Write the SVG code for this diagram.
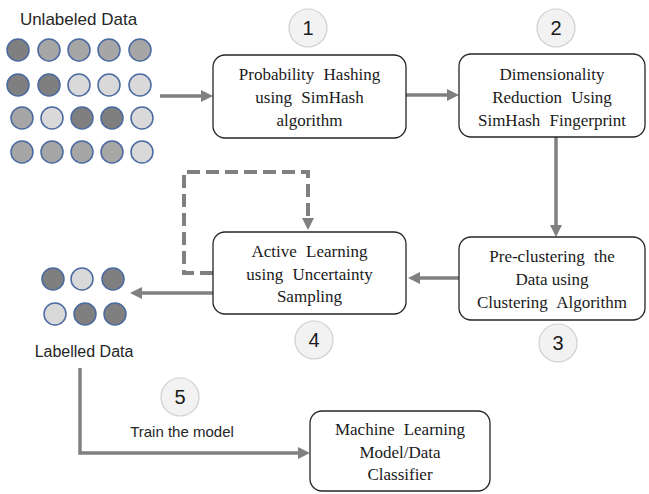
<svg xmlns="http://www.w3.org/2000/svg" width="649" height="494" viewBox="0 0 649 494">
<defs>
<style>
.box{fill:#fff;stroke:#262626;stroke-width:1.3}
.bt{font-family:"Liberation Serif","Times New Roman",serif;font-size:17px;fill:#1a1a1a;text-anchor:middle;word-spacing:5px}
.lbl{font-family:"Liberation Sans",Arial,sans-serif;font-size:16px;fill:#262626;text-anchor:middle}
.num{fill:#f2f2f2;stroke:#cfcfcf;stroke-width:1.2}
.nt{font-family:"Liberation Sans",Arial,sans-serif;font-size:20px;fill:#1a1a1a;text-anchor:middle}
.dk{fill:#7f7f7f;stroke:#4a6aa0;stroke-width:1.5}
.md{fill:#a6a6a6;stroke:#4a6aa0;stroke-width:1.5}
.lt{fill:#d9d9d9;stroke:#4a6aa0;stroke-width:1.5}
.conn{fill:none;stroke:#808080;stroke-width:3.5}
.dash{fill:none;stroke:#808080;stroke-width:4;stroke-dasharray:13 6}
</style>
<marker id="ah" viewBox="0 0 12 12" refX="0" refY="6" markerWidth="12" markerHeight="12" markerUnits="userSpaceOnUse" orient="auto">
<path d="M0,0 L12,6 L0,12 z" fill="#808080"/>
</marker>
</defs>
<rect width="649" height="494" fill="#fff"/>

<g id="unlabeled-data">
<text class="lbl" x="78.5" y="25" style="font-size:17px">Unlabeled Data</text>
<circle class="dk" cx="18" cy="50" r="11"/><circle class="md" cx="49" cy="50" r="11"/><circle class="md" cx="79" cy="50" r="11"/><circle class="md" cx="109" cy="50" r="11"/><circle class="md" cx="140" cy="50" r="11"/>
<circle class="dk" cx="18" cy="85" r="11"/><circle class="dk" cx="49" cy="85" r="11"/><circle class="lt" cx="79" cy="85" r="11"/><circle class="lt" cx="109" cy="85" r="11"/><circle class="lt" cx="140" cy="85" r="11"/>
<circle class="md" cx="22" cy="118" r="11"/><circle class="lt" cx="52" cy="118" r="11"/><circle class="dk" cx="82" cy="118" r="11"/><circle class="dk" cx="112" cy="118" r="11"/><circle class="lt" cx="142" cy="118" r="11"/>
<circle class="md" cx="22" cy="152" r="11"/><circle class="md" cx="52" cy="152" r="11"/><circle class="md" cx="82" cy="152" r="11"/><circle class="md" cx="112" cy="152" r="11"/><circle class="lt" cx="142" cy="152" r="11"/>
</g>

<g id="connectors">
<path class="conn" d="M160,96 H201" marker-end="url(#ah)"/>
<path class="conn" d="M406,95 H447" marker-end="url(#ah)"/>
<path class="conn" d="M556,137 V225" marker-end="url(#ah)"/>
<path class="conn" d="M459,278 H420" marker-end="url(#ah)"/>
<path class="conn" d="M213,293 H142" marker-end="url(#ah)"/>
<path class="dash" d="M213,273 H184 V172 H308 V218"/>
<path d="M302,218 L308,230 L314,218 z" fill="#808080"/>
<path class="conn" d="M80,368 V453 H298" marker-end="url(#ah)"/>
</g>

<g id="step1">
<circle class="num" cx="308" cy="28" r="19"/>
<text class="nt" x="308" y="35">1</text>
</g>
<g id="box1">
<rect class="box" x="213" y="55" width="193" height="83" rx="12"/>
<text class="bt" x="309.5" y="80">Probability Hashing</text>
<text class="bt" x="309.5" y="103">using SimHash</text>
<text class="bt" x="309.5" y="126">algorithm</text>
</g>

<g id="step2">
<circle class="num" cx="556" cy="28" r="19"/>
<text class="nt" x="556" y="35">2</text>
</g>
<g id="box2">
<rect class="box" x="459" y="54" width="186" height="83" rx="12"/>
<text class="bt" x="552" y="80">Dimensionality</text>
<text class="bt" x="552" y="103">Reduction Using</text>
<text class="bt" x="552" y="126">SimHash Fingerprint</text>
</g>

<g id="box3">
<rect class="box" x="459" y="237" width="186" height="83" rx="12"/>
<text class="bt" x="552" y="262">Pre-clustering the</text>
<text class="bt" x="552" y="285" style="word-spacing:0">Data using</text>
<text class="bt" x="552" y="308">Clustering Algorithm</text>
</g>
<g id="step3">
<circle class="num" cx="558" cy="343" r="19"/>
<text class="nt" x="558" y="350">3</text>
</g>

<g id="box4">
<rect class="box" x="213" y="232" width="193" height="82" rx="12"/>
<text class="bt" x="309.5" y="257">Active Learning</text>
<text class="bt" x="309.5" y="280">using Uncertainty</text>
<text class="bt" x="309.5" y="302">Sampling</text>
</g>
<g id="step4">
<circle class="num" cx="314" cy="340" r="19"/>
<text class="nt" x="314" y="347">4</text>
</g>

<g id="labelled-data">
<circle class="dk" cx="53" cy="279" r="11"/><circle class="lt" cx="82" cy="279" r="11"/><circle class="dk" cx="113" cy="279" r="11"/>
<circle class="lt" cx="55" cy="314" r="11"/><circle class="dk" cx="85" cy="314" r="11"/><circle class="dk" cx="115" cy="314" r="11"/>
<text class="lbl" x="84" y="357">Labelled Data</text>
</g>

<g id="step5">
<circle class="num" cx="180" cy="397" r="19"/>
<text class="nt" x="180" y="404">5</text>
<text class="lbl" x="182" y="437" style="font-size:15px">Train the model</text>
</g>

<g id="box5">
<rect class="box" x="310" y="411" width="180" height="80" rx="12"/>
<text class="bt" x="400" y="435">Machine Learning</text>
<text class="bt" x="400" y="458">Model/Data</text>
<text class="bt" x="400" y="480">Classifier</text>
</g>
</svg>
